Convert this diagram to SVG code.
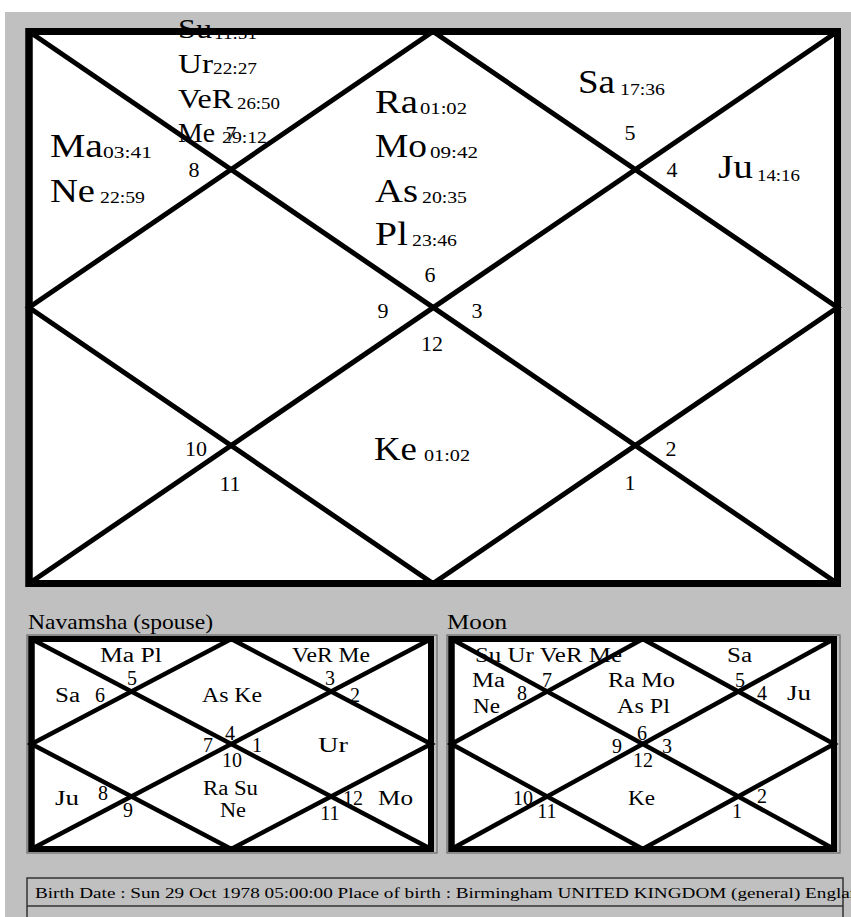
<svg xmlns="http://www.w3.org/2000/svg" width="851" height="917" viewBox="0 0 851 917">
<style>
text{font-family:"Liberation Serif","Times New Roman",serif;fill:#000}
.big{font-size:34px}
.mid{font-size:27px}
.sub{font-size:16px}
.num{font-size:22px;text-anchor:middle}
.sm{font-size:20px}
.snum{font-size:20px;text-anchor:middle}
.frame{fill:#fff;stroke:#000;stroke-width:7}
.sframe{fill:#fff;stroke:#000;stroke-width:6}
.ln{fill:none;stroke:#000;stroke-width:5}
.sln{fill:none;stroke:#000;stroke-width:4.5}
.thin{fill:none;stroke:#6a6a6a;stroke-width:1.2}
</style>
<rect x="0" y="0" width="851" height="917" fill="#fff"/>
<rect x="5" y="12" width="846" height="905" fill="#c0c0c0"/>

<g id="rasi">
<rect class="frame" x="29" y="31.5" width="808.5" height="552"/>
<g id="rasi-text">
<text class="mid" x="178" y="38" textLength="34" lengthAdjust="spacingAndGlyphs">Su</text>
<text class="sub" x="214" y="39" textLength="43" lengthAdjust="spacingAndGlyphs">11:51</text>
<text class="mid" x="178" y="73" textLength="35" lengthAdjust="spacingAndGlyphs">Ur</text>
<text class="sub" x="213" y="74" textLength="44" lengthAdjust="spacingAndGlyphs">22:27</text>
<text class="mid" x="178" y="108" textLength="55" lengthAdjust="spacingAndGlyphs">VeR</text>
<text class="sub" x="237" y="109" textLength="43" lengthAdjust="spacingAndGlyphs">26:50</text>
<text class="mid" x="178" y="142" textLength="37" lengthAdjust="spacingAndGlyphs">Me</text>
<text class="sub" x="222" y="143" textLength="45" lengthAdjust="spacingAndGlyphs">29:12</text>
<text class="num" x="231" y="141">7</text>
<text class="big" x="50" y="157" textLength="53" lengthAdjust="spacingAndGlyphs">Ma</text>
<text class="sub" x="103" y="158" textLength="49" lengthAdjust="spacingAndGlyphs">03:41</text>
<text class="big" x="50" y="202" textLength="45" lengthAdjust="spacingAndGlyphs">Ne</text>
<text class="sub" x="100" y="203" textLength="45" lengthAdjust="spacingAndGlyphs">22:59</text>
<text class="num" x="194" y="177">8</text>
<text class="big" x="375" y="113" textLength="43" lengthAdjust="spacingAndGlyphs">Ra</text>
<text class="sub" x="420" y="114" textLength="47" lengthAdjust="spacingAndGlyphs">01:02</text>
<text class="big" x="375" y="157" textLength="52" lengthAdjust="spacingAndGlyphs">Mo</text>
<text class="sub" x="430" y="158" textLength="48" lengthAdjust="spacingAndGlyphs">09:42</text>
<text class="big" x="375" y="202" textLength="43" lengthAdjust="spacingAndGlyphs">As</text>
<text class="sub" x="422" y="203" textLength="45" lengthAdjust="spacingAndGlyphs">20:35</text>
<text class="big" x="375" y="245" textLength="33" lengthAdjust="spacingAndGlyphs">Pl</text>
<text class="sub" x="412" y="246" textLength="45" lengthAdjust="spacingAndGlyphs">23:46</text>
<text class="num" x="430" y="282">6</text>
<text class="num" x="383" y="318">9</text>
<text class="num" x="477" y="318">3</text>
<text class="num" x="432" y="351">12</text>
<text class="big" x="578" y="93" textLength="37" lengthAdjust="spacingAndGlyphs">Sa</text>
<text class="sub" x="620" y="95" textLength="45" lengthAdjust="spacingAndGlyphs">17:36</text>
<text class="num" x="630" y="140">5</text>
<text class="num" x="672" y="177">4</text>
<text class="big" x="718" y="178" textLength="35" lengthAdjust="spacingAndGlyphs">Ju</text>
<text class="sub" x="757" y="181" textLength="43" lengthAdjust="spacingAndGlyphs">14:16</text>
<text class="num" x="196" y="456">10</text>
<text class="num" x="230" y="491">11</text>
<text class="big" x="374" y="460" textLength="43" lengthAdjust="spacingAndGlyphs">Ke</text>
<text class="sub" x="424" y="461" textLength="46" lengthAdjust="spacingAndGlyphs">01:02</text>
<text class="num" x="671" y="456">2</text>
<text class="num" x="630" y="490">1</text>
</g>
<g id="rasi-lines">
<line class="ln" x1="29" y1="31.5" x2="837.5" y2="583.5"/>
<line class="ln" x1="837.5" y1="31.5" x2="29" y2="583.5"/>
<polygon class="ln" points="433,31.5 837.5,307.5 433,583.5 29,307.5"/>
<rect x="29" y="31.5" width="808.5" height="552" fill="none" stroke="#000" stroke-width="7"/>
</g>
</g>

<g id="navamsha">
<text class="sm" x="28" y="629" style="font-size:21px" textLength="185" lengthAdjust="spacingAndGlyphs">Navamsha (spouse)</text>
<rect class="thin" x="27" y="635" width="410" height="218"/>
<rect class="sframe" x="31.5" y="639" width="399.5" height="210"/>
<g id="nav-text">
<text class="sm" x="100" y="662" textLength="62" lengthAdjust="spacingAndGlyphs">Ma Pl</text>
<text class="sm" x="292" y="662" textLength="78" lengthAdjust="spacingAndGlyphs">VeR Me</text>
<text class="sm" x="55" y="702" textLength="25" lengthAdjust="spacingAndGlyphs">Sa</text>
<text class="sm" x="202" y="702" textLength="60" lengthAdjust="spacingAndGlyphs">As Ke</text>
<text class="sm" x="318" y="752" textLength="30" lengthAdjust="spacingAndGlyphs">Ur</text>
<text class="sm" x="203" y="795" textLength="55" lengthAdjust="spacingAndGlyphs">Ra Su</text>
<text class="sm" x="220" y="817" textLength="26" lengthAdjust="spacingAndGlyphs">Ne</text>
<text class="sm" x="55" y="805" textLength="24" lengthAdjust="spacingAndGlyphs">Ju</text>
<text class="sm" x="378" y="805" textLength="35" lengthAdjust="spacingAndGlyphs">Mo</text>
<text class="snum" x="132" y="685">5</text>
<text class="snum" x="100" y="702">6</text>
<text class="snum" x="330" y="685">3</text>
<text class="snum" x="355" y="702">2</text>
<text class="snum" x="230" y="740">4</text>
<text class="snum" x="208" y="752">7</text>
<text class="snum" x="257" y="752">1</text>
<text class="snum" x="232" y="767">10</text>
<text class="snum" x="103" y="800">8</text>
<text class="snum" x="128" y="817">9</text>
<text class="snum" x="353" y="805">12</text>
<text class="snum" x="330" y="820">11</text>
</g>
<g id="nav-lines">
<line class="sln" x1="31.5" y1="639" x2="431" y2="849"/>
<line class="sln" x1="431" y1="639" x2="31.5" y2="849"/>
<polygon class="sln" points="231.25,639 431,744 231.25,849 31.5,744"/>
<rect x="31.5" y="639" width="399.5" height="210" fill="none" stroke="#000" stroke-width="6"/>
</g>
</g>

<g id="moon">
<text class="sm" x="447" y="629" style="font-size:21px" textLength="60" lengthAdjust="spacingAndGlyphs">Moon</text>
<rect class="thin" x="447" y="635" width="393" height="218"/>
<rect class="sframe" x="451.5" y="639" width="382.5" height="210"/>
<g id="moon-text">
<text class="sm" x="475" y="662" textLength="147" lengthAdjust="spacingAndGlyphs">Su Ur VeR Me</text>
<text class="sm" x="727" y="662" textLength="25" lengthAdjust="spacingAndGlyphs">Sa</text>
<text class="sm" x="472" y="687" textLength="33" lengthAdjust="spacingAndGlyphs">Ma</text>
<text class="sm" x="473" y="713" textLength="27" lengthAdjust="spacingAndGlyphs">Ne</text>
<text class="sm" x="608" y="687" textLength="67" lengthAdjust="spacingAndGlyphs">Ra Mo</text>
<text class="sm" x="617" y="713" textLength="53" lengthAdjust="spacingAndGlyphs">As Pl</text>
<text class="sm" x="787" y="700" textLength="24" lengthAdjust="spacingAndGlyphs">Ju</text>
<text class="sm" x="628" y="805" textLength="27" lengthAdjust="spacingAndGlyphs">Ke</text>
<text class="snum" x="547" y="687">7</text>
<text class="snum" x="522" y="700">8</text>
<text class="snum" x="740" y="687">5</text>
<text class="snum" x="762" y="700">4</text>
<text class="snum" x="642" y="740">6</text>
<text class="snum" x="617" y="753">9</text>
<text class="snum" x="667" y="753">3</text>
<text class="snum" x="643" y="767">12</text>
<text class="snum" x="523" y="805">10</text>
<text class="snum" x="547" y="818">11</text>
<text class="snum" x="737" y="818">1</text>
<text class="snum" x="762" y="803">2</text>
</g>
<g id="moon-lines">
<line class="sln" x1="451.5" y1="639" x2="834" y2="849"/>
<line class="sln" x1="834" y1="639" x2="451.5" y2="849"/>
<polygon class="sln" points="642.75,639 834,744 642.75,849 451.5,744"/>
<rect x="451.5" y="639" width="382.5" height="210" fill="none" stroke="#000" stroke-width="6"/>
</g>
</g>

<g id="birth-info">
<path d="M27,917 V878 H843 V917 M27,906 H843" fill="none" stroke="#333" stroke-width="1.5"/>
<text x="35" y="898" style="font-size:14px" textLength="834" lengthAdjust="spacingAndGlyphs">Birth Date : Sun 29 Oct 1978 05:00:00 Place of birth : Birmingham UNITED KINGDOM (general) England</text>
</g>
</svg>
